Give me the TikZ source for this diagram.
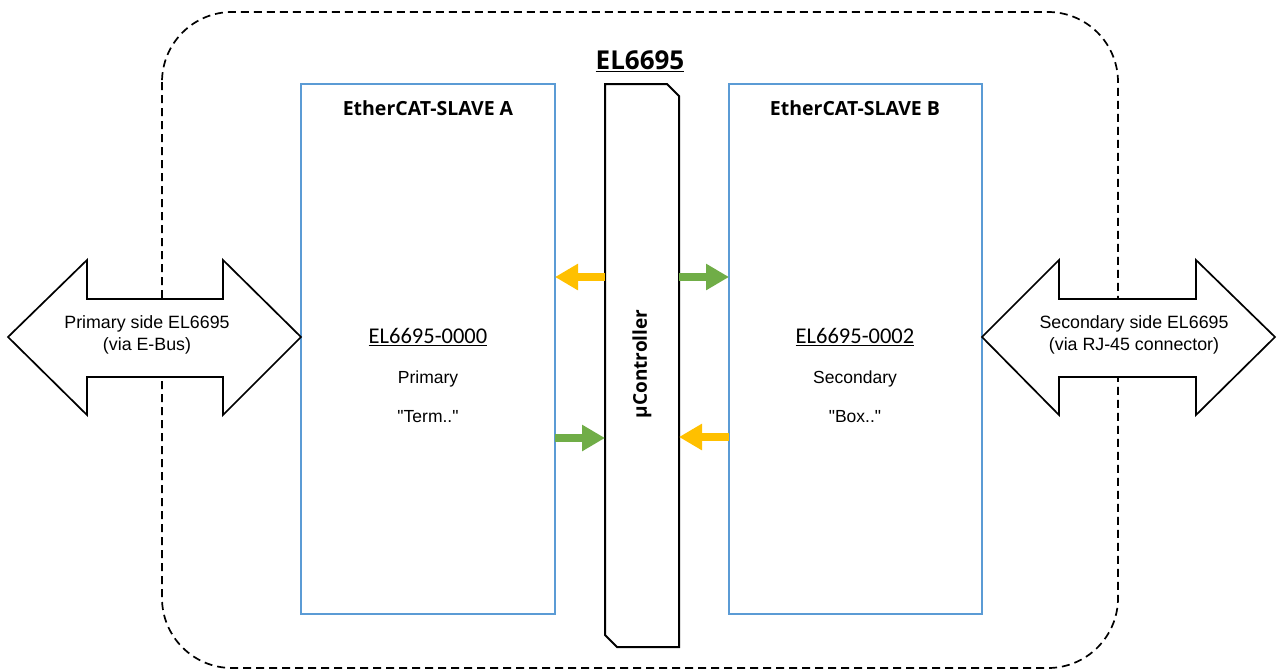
\documentclass[tikz,border=0pt]{standalone}
\usepackage{fontspec}
\setmainfont{Open Sans}
\newfontfamily\arialfont{Liberation Sans}
\newfontfamily\calfont{Carlito}
\usetikzlibrary{shapes.arrows,arrows.meta}
\definecolor{slaveblue}{HTML}{5B9BD5}
\definecolor{arrgreen}{HTML}{70AD47}
\definecolor{arryellow}{HTML}{FFC000}
\tikzset{
  slavebox/.style={draw=slaveblue, line width=1.8pt},
  ctrlbox/.style={draw=black, line width=2pt, fill=white},
  bigarrow/.style={draw=black, line width=1.7pt, fill=white, line join=miter},
  smallarr/.style={line width=8pt, -{Triangle[length=23pt,width=25pt]}},
  boundary/.style={draw=black, line width=1.7pt, dash pattern=on 8pt off 5pt, rounded corners=70pt},
  titlelbl/.style={inner sep=0pt, font=\bfseries\fontsize{19.5}{23}\selectfont},
  namelbl/.style={inner sep=0pt, font=\calfont\fontsize{22.5}{26}\selectfont},
  txtlbl/.style={inner sep=0pt, font=\arialfont\fontsize{17.5}{21}\selectfont},
  arrlbl/.style={inner sep=0pt, align=center, font=\arialfont\fontsize{17.8}{21.5}\selectfont},
}
\begin{document}
\begin{tikzpicture}[x=1pt,y=-1pt]
\useasboundingbox (0,0) rectangle (1277,670);
% boundary
\draw[boundary] (162,12) rectangle (1118,668);
% slave boxes
\draw[slavebox,fill=white] (301,84) rectangle (555,614);
\draw[slavebox,fill=white] (729,84) rectangle (982,614);
\node[titlelbl] (satitle) at (428,108) {EtherCAT-SLAVE A};
\node[titlelbl] (sbtitle) at (855,108) {EtherCAT-SLAVE B};
\node[namelbl] (saname) at (428,337) {\underline{EL6695-0000}};
\node[txtlbl] (sarole) at (428,379) {Primary};
\node[txtlbl] (saterm) at (428,417) {\symbol{34}Term..\symbol{34}};
\node[namelbl] (sbname) at (855,337) {\underline{EL6695-0002}};
\node[txtlbl] (sbrole) at (855,379) {Secondary};
\node[txtlbl] (sbbox) at (855,417) {\symbol{34}Box..\symbol{34}};
% controller
\draw[ctrlbox] (605,84) -- (667,84) -- (679,96) -- (679,647) -- (617,647) -- (605,635) -- cycle;
\node[inner sep=0pt, rotate=90, font=\bfseries\fontsize{19}{22}\selectfont] (ctrl) at (642,364) {µController};
\node[inner sep=0pt, font=\bfseries\fontsize{26}{30}\selectfont] (title) at (640,61) {\underline{EL6695}};
% small arrows
\coordinate (a1s) at (605,277); \coordinate (a1e) at (555,277);
\coordinate (a2s) at (555,438); \coordinate (a2e) at (605,438);
\coordinate (b1s) at (679,277); \coordinate (b1e) at (729,277);
\coordinate (b2s) at (729,437); \coordinate (b2e) at (679,437);
\draw[smallarr,arryellow] (a1s) -- (a1e);
\draw[smallarr,arrgreen] (a2s) -- (a2e);
\draw[smallarr,arrgreen] (b1s) -- (b1e);
\draw[smallarr,arryellow] (b2s) -- (b2e);
% big double arrows
\draw[bigarrow] (8,337) -- (87,260) -- (87,299) -- (223,299) -- (223,260) -- (301,337) -- (223,415) -- (223,377) -- (87,377) -- (87,415) -- cycle;
\draw[bigarrow] (982,337) -- (1059,260) -- (1059,299) -- (1196,299) -- (1196,260) -- (1275,337) -- (1196,415) -- (1196,377) -- (1059,377) -- (1059,415) -- cycle;
\node[arrlbl] (plbl) at (147,335) {Primary side EL6695\\(via E-Bus)};
\node[arrlbl] (slbl) at (1134,335) {Secondary side EL6695\\(via RJ-45 connector)};
\end{tikzpicture}
\end{document}
